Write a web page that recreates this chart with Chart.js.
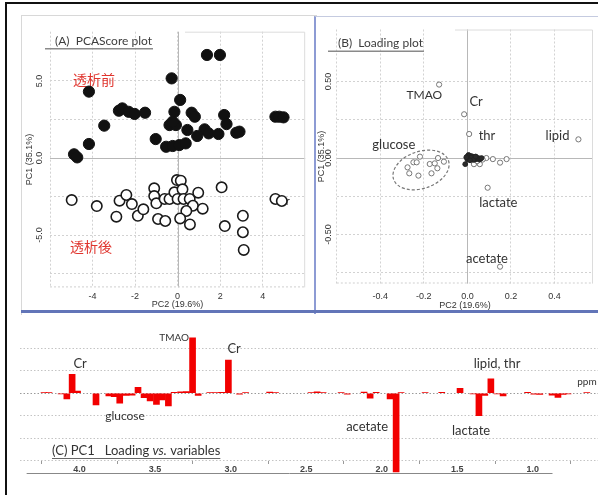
<!DOCTYPE html>
<html lang="ja">
<head>
<meta charset="UTF-8">
<title>PCA score / loading plot</title>
<script src="https://cdn.jsdelivr.net/npm/chart.js"></script>
<style>
  body { margin: 0; width: 598px; height: 495px; position: relative; background: #fff; overflow: hidden; }
  .frame { position: absolute; box-sizing: border-box; }
  canvas { position: absolute; }
</style>
</head>
<body>
<div class="frame" style="left:5px;top:2px;width:600px;height:500px;border-left:2px solid #111;border-top:2px solid #111;"></div>
<div class="frame" style="left:21px;top:15px;width:296px;height:300px;border-left:1px solid #d8d8d8;border-top:1px solid #d8d8d8;"></div>
<div class="frame" style="left:314px;top:16px;width:290px;height:298px;border-left:2px solid #8d9bd4;border-top:1px solid #c5cbe0;"></div>
<div class="frame" style="left:21px;top:310px;width:580px;height:3px;background:#6275b8;"></div>

<canvas id="score" width="290" height="296" style="left:22px;top:16px;"></canvas>
<canvas id="loading" width="283" height="294" style="left:315px;top:18px;"></canvas>
<canvas id="pc1" width="598" height="175" style="left:0px;top:320px;"></canvas>

<script>
// (A) score plot - before dialysis (filled) / after dialysis (open)
const scoreBeforeX = [1.38, 1.99, -0.28, -4.17, 0.12, -2.76, -2.6, -2.3, -2.02, -1.53, -0.15, 0.66, 0.81, 2.19, 2.3, -0.38, -0.08, -0.23, -3.45, 0.46, 1.27, 1.46, 1.92, 0.92, 2.76, 2.91, -1.03, -4.17, -0.54, -0.23, 0.08, 0.38, -4.87, -4.72, 4.6, 4.78, 4.98];
const scoreBeforeY = [6.69, 6.69, 5.17, 4.31, 3.77, 3.07, 3.22, 3.0, 2.86, 2.94, 3.0, 2.94, 2.68, 2.79, 2.2, 2.14, 2.14, 2.36, 2.1, 1.82, 1.86, 1.6, 1.56, 1.43, 1.64, 1.71, 1.23, 0.91, 0.73, 0.78, 0.84, 0.95, 0.24, 0.04, 2.68, 2.68, 2.64];
const scoreAfterX = [-4.98, -3.8, -2.88, -2.73, -2.41, -2.15, -1.87, -1.61, -1.1, -1.1, -1.0, -0.92, -0.58, -0.61, -0.38, -0.15, -0.03, 0.15, 0.23, 0, 0.28, 0.57, 0.72, 0.41, 0.12, 0.58, 0.97, 1.18, 2.07, 2.22, 3.07, 3.07, 3.11, 4.6, 4.9];
const scoreAfterY = [-2.73, -3.12, -3.81, -2.77, -2.4, -2.99, -3.75, -3.33, -1.97, -2.47, -2.94, -3.96, -4.09, -2.66, -2.66, -2.23, -1.43, -1.47, -2.03, -2.66, -2.66, -2.66, -3.1, -3.44, -3.92, -4.31, -2.25, -3.29, -1.9, -4.42, -3.75, -4.82, -5.97, -2.66, -2.79];
const scoreXGrid = [-6, -4, -2, 0, 2, 4];
const scoreXTicks = [-4, -2, 0, 2, 4];
const scoreYGrid = [-7.5, -5, -2.5, 0, 2.5, 5];
const scoreYTicks = [-5, 0, 5];

// (B) loading plot
const namedLoadX = [-0.13, -0.015, 0.008, 0.51, 0.093, 0.15];
const namedLoadY = [0.48, 0.286, 0.157, 0.122, -0.194, -0.71];
const glucoseLoadX = [-0.275, -0.267, -0.248, -0.233, -0.218, -0.225, -0.173, -0.165, -0.15, -0.138, -0.135, -0.108];
const glucoseLoadY = [-0.061, -0.1, -0.028, -0.028, 0.009, -0.115, -0.039, -0.1, -0.035, -0.067, 0, -0.024];
const smallLoadX = [0.03, 0.057, 0.087, 0.117, 0.15, 0.18, 0.045, 0.07];
const smallLoadY = [-0.04, -0.04, 0, -0.007, -0.03, -0.007, -0.02, -0.01];
const coreLoadX = [-0.01, 0, 0.005, 0.01, 0.015, 0.02, 0.025, 0.03, 0.035, 0.04, 0.045, 0.05, 0.055, 0.06, 0.065, 0, 0.01, 0.02, 0.03, 0.008, 0.018, 0.028, 0.038, -0.005, 0.012];
const coreLoadY = [-0.04, 0.01, 0.02, 0, 0.01, -0.005, 0.005, 0, -0.01, 0.005, -0.005, 0, -0.01, -0.005, 0, -0.01, 0.015, 0.012, 0.008, -0.005, 0.002, -0.012, 0.01, 0.005, -0.015];
const loadXGrid = [-0.6, -0.4, -0.2, 0, 0.2, 0.4];
const loadXTicks = [-0.4, -0.2, 0, 0.2, 0.4];
const loadYGrid = [-0.75, -0.5, -0.25, 0, 0.25, 0.5];
const loadYTicks = [-0.5, 0, 0.5];

// (C) PC1 loading vs. variables (ppm)
const ppmBins = [4.235, 4.202, 4.122, 4.084, 4.049, 4.013, 3.891, 3.806, 3.771, 3.734, 3.692, 3.652, 3.613, 3.573, 3.533, 3.491, 3.454, 3.412, 3.374, 3.331, 3.292, 3.252, 3.215,
  3.138, 3.098, 3.059, 3.015, 2.941, 2.901, 2.742, 2.703, 2.468, 2.428, 2.388, 2.269, 2.229, 2.117, 2.077, 2.037, 1.945, 1.905,
  1.872, 1.713, 1.603, 1.482, 1.396, 1.357, 1.318, 1.278, 1.237, 1.197, 1.035, 0.994, 0.954, 0.873, 0.834, 0.8, 0.767, 0.643];
const pc1Loadings = [0.003, 0.003, -0.003, -0.025, 0.084, 0.01, -0.052, -0.012, -0.015, -0.044, -0.01, -0.008, 0.027, -0.02, -0.034, -0.049, -0.03, -0.056, 0.004, 0.006, 0.008, 0.247, -0.01,
  0.003, 0.003, 0.004, 0.148, -0.004, 0.003, 0.005, 0.003, 0.003, 0.006, 0.003, 0.003, -0.004, 0.005, -0.022, 0.004, -0.025, -0.35,
  0.003, 0.003, 0.004, 0.022, -0.003, -0.099, -0.01, 0.064, -0.003, -0.012, 0.004, -0.004, -0.005, -0.008, -0.018, -0.005, -0.003, 0.003];
const ppmTicks = [4.0, 3.5, 3.0, 2.5, 2.0, 1.5, 1.0];
const pc1Grid = [-0.3, -0.2, -0.1, 0, 0.1, 0.2];

const tickFont = { family: 'Liberation Sans', size: 9 };
const textColor = '#333';
const toPoints = (xs, ys) => xs.map((x, i) => ({ x: x, y: ys[i] }));

function drawNotes(chart, notes) {
  const { ctx, scales: { x, y } } = chart;
  ctx.save();
  notes.forEach(n => {
    ctx.font = n.font;
    ctx.fillStyle = n.color || textColor;
    ctx.textAlign = n.align || 'center';
    ctx.textBaseline = 'middle';
    ctx.fillText(n.text, x.getPixelForValue(n.x), y.getPixelForValue(n.y));
  });
  ctx.restore();
}

function drawPanelFrame(chart, title, tx, ty, lineFrom) {
  const { ctx, chartArea: a, scales: { x, y } } = chart;
  ctx.save();
  ctx.strokeStyle = '#b8b8b8';
  ctx.lineWidth = 1;
  ctx.beginPath();
  ctx.moveTo(a.left, Math.round(y.getPixelForValue(0)) + 0.5);
  ctx.lineTo(a.right, Math.round(y.getPixelForValue(0)) + 0.5);
  ctx.moveTo(Math.round(x.getPixelForValue(0)) + 0.5, a.top);
  ctx.lineTo(Math.round(x.getPixelForValue(0)) + 0.5, a.bottom);
  ctx.stroke();
  ctx.strokeStyle = '#dcdcdc';
  ctx.beginPath();
  ctx.moveTo(lineFrom, a.top + 0.5);
  ctx.lineTo(a.right - 0.5, a.top + 0.5);
  ctx.lineTo(a.right - 0.5, a.bottom);
  ctx.stroke();
  ctx.setLineDash([2, 2]);
  ctx.strokeStyle = '#cfcfcf';
  ctx.beginPath();
  ctx.moveTo(a.left, a.bottom - 0.5);
  ctx.lineTo(a.right, a.bottom - 0.5);
  ctx.stroke();
  ctx.setLineDash([]);
  ctx.font = '12px Lato';
  ctx.fillStyle = '#3d3d3d';
  ctx.textAlign = 'left';
  ctx.textBaseline = 'middle';
  ctx.fillText(title, tx, ty);
  const w = ctx.measureText(title).width;
  ctx.strokeStyle = '#8a8a8a';
  ctx.lineWidth = 1.5;
  ctx.beginPath();
  ctx.moveTo(tx - 10, ty + 8);
  ctx.lineTo(tx + w + 1, ty + 8);
  ctx.stroke();
  ctx.restore();
}

const scoreNotes = [
  { text: '透析前', x: -4.92, y: 5.06, align: 'left', font: '14px "Noto Sans CJK JP"', color: '#e0352e' },
  { text: '透析後', x: -5.06, y: -5.78, align: 'left', font: '14px "Noto Sans CJK JP"', color: '#e0352e' },
  { text: 'Cr', x: 4.74, y: -2.79, align: 'left', font: '11px Lato' }
];

new Chart(document.getElementById('score'), {
  type: 'scatter',
  data: {
    datasets: [
      { label: '透析前', data: toPoints(scoreBeforeX, scoreBeforeY), pointRadius: 5.6, backgroundColor: '#111', borderColor: '#111', borderWidth: 1 },
      { label: '透析後', data: toPoints(scoreAfterX, scoreAfterY), pointRadius: 5.2, backgroundColor: '#fff', borderColor: '#1a1a1a', borderWidth: 1.6 }
    ]
  },
  options: {
    responsive: false,
    animation: false,
    events: [],
    layout: { padding: { top: 15.7, right: 1, left: 0, bottom: 0 } },
    plugins: { legend: { display: false }, tooltip: { enabled: false } },
    scales: {
      x: {
        type: 'linear', min: -6, max: 6,
        afterBuildTicks: s => { s.ticks = scoreXGrid.map(v => ({ value: v })); },
        afterFit: s => { s.height = 24.6; },
        grid: { color: '#d2d2d2', drawTicks: false },
        border: { display: false, dash: [2, 2] },
        ticks: { padding: 4, font: tickFont, color: textColor, autoSkip: false, maxRotation: 0,
          callback: v => scoreXTicks.includes(v) ? String(v) : '' },
        title: { display: true, text: 'PC2 (19.6%)', font: tickFont, color: textColor, padding: { top: 0, bottom: 1.6 } }
      },
      y: {
        type: 'linear', min: -8.4, max: 8.2,
        afterBuildTicks: s => { s.ticks = scoreYGrid.map(v => ({ value: v })); },
        afterFit: s => { s.width = 28; },
        grid: { color: '#d2d2d2', drawTicks: false },
        border: { display: false, dash: [2, 2] },
        ticks: { padding: 2.3, font: tickFont, color: textColor, autoSkip: false, minRotation: 90, maxRotation: 90, crossAlign: 'center',
          callback: v => scoreYTicks.includes(v) ? v.toFixed(1) : '' },
        title: { display: true, text: 'PC1 (35.1%)', font: tickFont, color: textColor, padding: { top: 2.6, bottom: 0 } }
      }
    }
  },
  plugins: [{
    id: 'scoreDecor',
    beforeDatasetsDraw(chart) {
      drawPanelFrame(chart, '(A)  PCAScore plot', 33, 24.7, 163);
      drawNotes(chart, scoreNotes);
    }
  }]
});

const loadNotes = [
  { text: 'TMAO', x: -0.198, y: 0.41, font: '12px Lato' },
  { text: 'Cr', x: 0.04, y: 0.366, font: '13px Lato' },
  { text: 'thr', x: 0.09, y: 0.144, font: '13px Lato' },
  { text: 'lipid', x: 0.414, y: 0.144, font: '13px Lato' },
  { text: 'glucose', x: -0.338, y: 0.085, font: '13px Lato' },
  { text: 'lactate', x: 0.142, y: -0.294, font: '13px Lato' },
  { text: 'acetate', x: 0.09, y: -0.66, font: '13px Lato' }
];

new Chart(document.getElementById('loading'), {
  type: 'scatter',
  data: {
    datasets: [
      { label: 'core', data: toPoints(coreLoadX, coreLoadY), pointRadius: 2.4, backgroundColor: '#2a2a2a', borderColor: '#222', borderWidth: 1 },
      { label: 'small', data: toPoints(smallLoadX, smallLoadY), pointRadius: 2.6, backgroundColor: '#fff', borderColor: '#777', borderWidth: 1 },
      { label: 'glucose', data: toPoints(glucoseLoadX, glucoseLoadY), pointRadius: 2.6, backgroundColor: '#fff', borderColor: '#777', borderWidth: 1 },
      { label: 'named', data: toPoints(namedLoadX, namedLoadY), pointRadius: 2.6, backgroundColor: '#fff', borderColor: '#777', borderWidth: 1 }
    ]
  },
  options: {
    responsive: false,
    animation: false,
    events: [],
    layout: { padding: { top: 11.5, right: 0, left: 0, bottom: 0 } },
    plugins: { legend: { display: false }, tooltip: { enabled: false } },
    scales: {
      x: {
        type: 'linear', min: -0.6, max: 0.577,
        afterBuildTicks: s => { s.ticks = loadXGrid.map(v => ({ value: v })); },
        afterFit: s => { s.height = 28.5; },
        grid: { color: '#d2d2d2', drawTicks: false },
        border: { display: false, dash: [2, 2] },
        ticks: { padding: 7.5, font: tickFont, color: textColor, autoSkip: false, maxRotation: 0,
          callback: v => loadXTicks.includes(v) ? v.toFixed(1) : '' },
        title: { display: true, text: 'PC2 (19.6%)', font: tickFont, color: textColor, padding: { top: 0, bottom: 0.6 } }
      },
      y: {
        type: 'linear', min: -0.82, max: 0.84,
        afterBuildTicks: s => { s.ticks = loadYGrid.map(v => ({ value: v })); },
        afterFit: s => { s.width = 21.8; },
        grid: { color: '#d2d2d2', drawTicks: false },
        border: { display: false, dash: [2, 2] },
        ticks: { padding: -2.2, font: tickFont, color: textColor, autoSkip: false, minRotation: 90, maxRotation: 90, crossAlign: 'center',
          callback: v => loadYTicks.includes(v) ? v.toFixed(2) : '' },
        title: { display: true, text: 'PC1 (35.1%)', font: tickFont, color: textColor, padding: { top: 0.7, bottom: 0 } }
      }
    }
  },
  plugins: [{
    id: 'loadDecor',
    beforeDatasetsDraw(chart) {
      drawPanelFrame(chart, '(B)  Loading plot', 23, 25.3, 140);
    },
    afterDatasetsDraw(chart) {
      const { ctx, scales: { x, y } } = chart;
      // dashed ellipse round the glucose loadings
      ctx.save();
      ctx.strokeStyle = '#777';
      ctx.lineWidth = 1.2;
      ctx.setLineDash([3, 2]);
      ctx.beginPath();
      ctx.ellipse(x.getPixelForValue(-0.213), y.getPixelForValue(-0.078), 29, 18.5, -0.33, 0, Math.PI * 2);
      ctx.stroke();
      ctx.restore();
      drawNotes(chart, loadNotes);
    }
  }]
});

const pc1Notes = [
  { text: 'Cr', x: 3.996, y: 0.13, font: '13px Lato' },
  { text: 'TMAO', x: 3.374, y: 0.246, font: '10px Lato' },
  { text: 'glucose', x: 3.699, y: -0.1, font: '12px Lato' },
  { text: 'Cr', x: 2.977, y: 0.197, font: '13px Lato' },
  { text: 'acetate', x: 2.097, y: -0.148, font: '13px Lato' },
  { text: 'lipid, thr', x: 1.237, y: 0.13, font: '13px Lato' },
  { text: 'lactate', x: 1.409, y: -0.168, font: '13px Lato' },
  { text: 'ppm', x: 0.642, y: 0.05, font: '10px Lato' }
];

new Chart(document.getElementById('pc1'), {
  type: 'bar',
  data: {
    datasets: [{
      label: 'PC1 loading',
      data: toPoints(ppmBins, pc1Loadings),
      backgroundColor: '#f20000',
      borderWidth: 0,
      barThickness: 6
    }]
  },
  options: {
    responsive: false,
    animation: false,
    events: [],
    layout: { padding: { top: 5.8, right: 0, left: 20, bottom: 0.5 } },
    plugins: { legend: { display: false }, tooltip: { enabled: false } },
    scales: {
      x: {
        type: 'linear', min: 0.569, max: 4.394, reverse: true, offset: false,
        position: { y: -0.3 },
        afterBuildTicks: s => { s.ticks = ppmTicks.map(v => ({ value: v })); },
        afterFit: s => { s.height = 0; },
        grid: { drawOnChartArea: false, drawTicks: true, tickLength: 3, color: '#999' },
        border: { display: false },
        ticks: { padding: 0, font: { family: 'Liberation Sans', size: 9, weight: 'bold' }, color: '#444', autoSkip: false, maxRotation: 0,
          callback: v => v.toFixed(1) }
      },
      y: {
        type: 'linear', min: -0.45, max: 0.3,
        afterBuildTicks: s => { s.ticks = pc1Grid.map(v => ({ value: v })); },
        afterFit: s => { s.width = 0; },
        grid: { color: ctx => ctx.tick && ctx.tick.value === 0 ? '#9a9a9a' : '#c4c4c4', drawTicks: false },
        border: { display: false, dash: [1.5, 2] },
        ticks: { display: false }
      }
    }
  },
  plugins: [{
    id: 'pc1Decor',
    afterDatasetsDraw(chart) {
      const { ctx, scales: { x, y } } = chart;
      ctx.save();
      // solid base line under the ppm labels
      const ly = Math.round(y.getPixelForValue(-0.3)) + 12.5;
      ctx.strokeStyle = '#888';
      ctx.lineWidth = 1;
      ctx.beginPath();
      ctx.moveTo(x.getPixelForValue(4.35), ly);
      ctx.lineTo(x.getPixelForValue(0.87), ly);
      ctx.stroke();
      // panel title
      const parts = [['(C) PC1   Loading ', '13px Lato'], ['vs.', 'italic 13px Lato'], [' variables', '13px Lato']];
      let tx = 52;
      const ty = 131;
      ctx.fillStyle = '#333';
      ctx.textAlign = 'left';
      ctx.textBaseline = 'middle';
      parts.forEach(([t, f]) => {
        ctx.font = f;
        ctx.fillText(t, tx, ty);
        tx += ctx.measureText(t).width;
      });
      ctx.strokeStyle = '#666';
      ctx.beginPath();
      ctx.moveTo(52, ty + 7.5);
      ctx.lineTo(tx, ty + 7.5);
      ctx.stroke();
      ctx.restore();
      drawNotes(chart, pc1Notes);
    }
  }]
});
</script>
</body>
</html>
